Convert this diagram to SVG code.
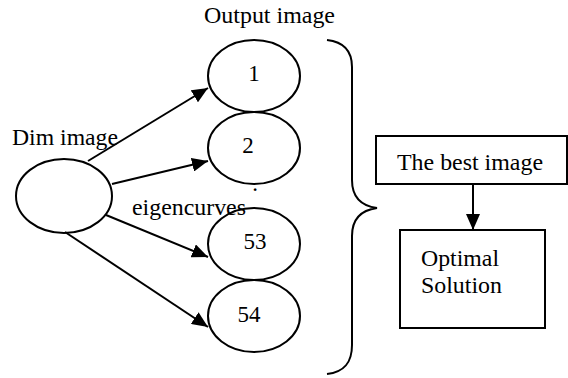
<svg xmlns="http://www.w3.org/2000/svg" width="568" height="378" viewBox="0 0 568 378">
<defs>
<style>
.s{fill:#fff;stroke:#000;stroke-width:2}
.c{stroke:#000;stroke-width:2;fill:none}
</style>
<marker id="ah" markerUnits="userSpaceOnUse" markerWidth="16" markerHeight="14" refX="16" refY="7" orient="auto">
<path d="M0,0 L16,7 L0,14 z" fill="#000"/>
</marker>
</defs>
<rect width="568" height="378" fill="#fff"/>
<g font-family="Liberation Serif" font-size="23" fill="#000">
<text x="204" y="23" textLength="131" lengthAdjust="spacingAndGlyphs">Output image</text>
<text x="12" y="145" textLength="106" lengthAdjust="spacingAndGlyphs">Dim image</text>
<g id="dim"><ellipse class="s" cx="64" cy="196" rx="48" ry="37"/></g>
<g id="n1"><ellipse class="s" cx="254" cy="76" rx="46" ry="36"/><text x="254" y="81" text-anchor="middle">1</text></g>
<g id="n2"><ellipse class="s" cx="254" cy="148" rx="46" ry="36"/><text x="248" y="153" text-anchor="middle">2</text></g>
<g id="n53"><ellipse class="s" cx="254" cy="244" rx="46" ry="36"/><text x="255" y="249" text-anchor="middle">53</text></g>
<g id="n54"><ellipse class="s" cx="254" cy="316" rx="46" ry="36"/><text x="249" y="322" text-anchor="middle">54</text></g>
<text x="255" y="191" text-anchor="middle">.</text>
<text x="132" y="215" textLength="114" lengthAdjust="spacingAndGlyphs">eigencurves</text>
<g id="brace"><path class="c" d="M327,40 C345,42 352,52 352,67 L352,180 C352,198 362,206 377,208 C362,210 352,218 352,236 L352,345 C352,362 345,372 327,374"/></g>
<g id="best"><rect class="s" x="376" y="136" width="191" height="48"/><text x="397" y="170" textLength="146" lengthAdjust="spacingAndGlyphs">The best image</text></g>
<g id="opt"><rect class="s" x="400" y="230" width="145" height="98"/><text x="421" y="266" textLength="78" lengthAdjust="spacingAndGlyphs">Optimal</text><text x="421" y="293" textLength="81" lengthAdjust="spacingAndGlyphs">Solution</text></g>
</g>
<g id="connectors">
<line class="c" x1="88" y1="161" x2="208" y2="88" marker-end="url(#ah)"/>
<line class="c" x1="112" y1="184" x2="208" y2="161" marker-end="url(#ah)"/>
<line class="c" x1="106" y1="215" x2="208" y2="257" marker-end="url(#ah)"/>
<line class="c" x1="65" y1="232" x2="208" y2="327" marker-end="url(#ah)"/>
<line class="c" x1="473" y1="184" x2="473" y2="230" marker-end="url(#ah)"/>
</g>
</svg>
